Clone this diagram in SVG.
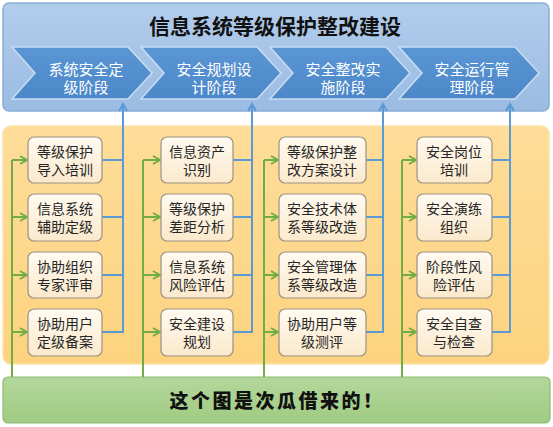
<svg xmlns="http://www.w3.org/2000/svg" width="553" height="427" viewBox="0 0 553 427">
<style>
.t{font-family:"Liberation Sans","Noto Sans CJK SC",sans-serif}
.title{font-size:21px;font-weight:700;fill:#111;text-anchor:middle}
.ch{fill:url(#gChev);stroke:#c9ddf3;stroke-width:1.5}
.cht{font-size:15px;fill:#fff;text-anchor:middle}
.box{fill:url(#gBox);stroke:#9b9283;stroke-width:1.2}
.bt{font-size:14px;fill:#262626;text-anchor:middle}
.gl{fill:none;stroke:#70ad47;stroke-width:2}
.bl{fill:none;stroke:#5b9bd5;stroke-width:2}
</style>
<defs>
<linearGradient id="gTop" x1="0" y1="0" x2="0" y2="1"><stop offset="0" stop-color="#b2cdec"/><stop offset="1" stop-color="#9bbbe2"/></linearGradient>
<linearGradient id="gChev" x1="0" y1="0" x2="0" y2="1"><stop offset="0" stop-color="#5a96d4"/><stop offset="1" stop-color="#4c87c8"/></linearGradient>
<linearGradient id="gMid" x1="0" y1="0" x2="0" y2="1"><stop offset="0" stop-color="#fedd99"/><stop offset="1" stop-color="#fdd37f"/></linearGradient>
<linearGradient id="gBot" x1="0" y1="0" x2="0" y2="1"><stop offset="0" stop-color="#b3d79b"/><stop offset="1" stop-color="#a0cb83"/></linearGradient>
<linearGradient id="gBox" x1="0" y1="0" x2="0" y2="1"><stop offset="0" stop-color="#fffaf1"/><stop offset="1" stop-color="#fbe9cc"/></linearGradient>
<marker id="ag" markerWidth="10" markerHeight="10" refX="8" refY="5" orient="auto" markerUnits="userSpaceOnUse"><path d="M1,1 L8,5 L1,9" fill="none" stroke="#70ad47" stroke-width="2"/></marker>
<marker id="ab" markerWidth="10" markerHeight="10" refX="8" refY="5" orient="auto" markerUnits="userSpaceOnUse"><path d="M1,1 L8,5 L1,9" fill="none" stroke="#5b9bd5" stroke-width="2"/></marker>
</defs>

<g id="panel-top">
<rect x="3" y="3" width="546" height="108" rx="6" fill="url(#gTop)" stroke="#8badd8" stroke-width="1.5"/>
<text class="t title" x="275" y="34">信息系统等级保护整改建设</text>
</g>
<g id="phase1"><path class="ch" d="M12,47 L128,47 L152,73 L128,99 L12,99 L35,73 Z"/><text class="t cht"><tspan x="86" y="75">系统安全定</tspan><tspan x="86" y="93">级阶段</tspan></text></g>
<g id="phase2"><path class="ch" d="M141,47 L257,47 L281,73 L257,99 L141,99 L164,73 Z"/><text class="t cht"><tspan x="214" y="75">安全规划设</tspan><tspan x="214" y="93">计阶段</tspan></text></g>
<g id="phase3"><path class="ch" d="M270,47 L386,47 L410,73 L386,99 L270,99 L293,73 Z"/><text class="t cht"><tspan x="343" y="75">安全整改实</tspan><tspan x="343" y="93">施阶段</tspan></text></g>
<g id="phase4"><path class="ch" d="M399,47 L515,47 L539,73 L515,99 L399,99 L422,73 Z"/><text class="t cht"><tspan x="472" y="75">安全运行管</tspan><tspan x="472" y="93">理阶段</tspan></text></g>

<g id="panel-mid"><rect x="3" y="126" width="546" height="238" rx="8" fill="url(#gMid)" stroke="#fbe2a8" stroke-width="1.5"/></g>
<g id="panel-bottom">
<rect x="3" y="377" width="547" height="46" rx="5" fill="url(#gBot)" stroke="#8ebc70" stroke-width="1.2"/>
<text class="t" x="277" y="408" font-size="19" font-weight="900" fill="#111" text-anchor="middle" letter-spacing="2.5">这个图是次瓜借来的！</text>
</g>

<g id="connectors">
<path class="gl" d="M12,377 V160"/><path class="gl" d="M143,377 V160"/><path class="gl" d="M264,377 V160"/><path class="gl" d="M402,377 V160"/>
<path class="gl" marker-end="url(#ag)" d="M12,160 H27"/><path class="gl" marker-end="url(#ag)" d="M12,217 H27"/><path class="gl" marker-end="url(#ag)" d="M12,275 H27"/><path class="gl" marker-end="url(#ag)" d="M12,332 H27"/>
<path class="gl" marker-end="url(#ag)" d="M143,160 H160"/><path class="gl" marker-end="url(#ag)" d="M143,217 H160"/><path class="gl" marker-end="url(#ag)" d="M143,275 H160"/><path class="gl" marker-end="url(#ag)" d="M143,332 H160"/>
<path class="gl" marker-end="url(#ag)" d="M264,160 H278"/><path class="gl" marker-end="url(#ag)" d="M264,217 H278"/><path class="gl" marker-end="url(#ag)" d="M264,275 H278"/><path class="gl" marker-end="url(#ag)" d="M264,332 H278"/>
<path class="gl" marker-end="url(#ag)" d="M402,160 H416"/><path class="gl" marker-end="url(#ag)" d="M402,217 H416"/><path class="gl" marker-end="url(#ag)" d="M402,275 H416"/><path class="gl" marker-end="url(#ag)" d="M402,332 H416"/>

<path class="bl" marker-end="url(#ab)" d="M102,332 H123 V104"/><path class="bl" d="M102,160 H123 M102,217 H123 M102,275 H123"/>
<path class="bl" marker-end="url(#ab)" d="M233,332 H252 V104"/><path class="bl" d="M233,160 H252 M233,217 H252 M233,275 H252"/>
<path class="bl" marker-end="url(#ab)" d="M366,332 H383 V104"/><path class="bl" d="M366,160 H383 M366,217 H383 M366,275 H383"/>
<path class="bl" marker-end="url(#ab)" d="M492,332 H510 V104"/><path class="bl" d="M492,160 H510 M492,217 H510 M492,275 H510"/>
</g>

<g id="c1r1"><rect class="box" x="28" y="137" width="74" height="46" rx="6"/><text class="t bt"><tspan x="65" y="157">等级保护</tspan><tspan x="65" y="175">导入培训</tspan></text></g>
<g id="c1r2"><rect class="box" x="28" y="194" width="74" height="47" rx="6"/><text class="t bt"><tspan x="65" y="214">信息系统</tspan><tspan x="65" y="232">辅助定级</tspan></text></g>
<g id="c1r3"><rect class="box" x="28" y="252" width="74" height="46" rx="6"/><text class="t bt"><tspan x="65" y="272">协助组织</tspan><tspan x="65" y="290">专家评审</tspan></text></g>
<g id="c1r4"><rect class="box" x="28" y="309" width="74" height="47" rx="6"/><text class="t bt"><tspan x="65" y="329">协助用户</tspan><tspan x="65" y="347">定级备案</tspan></text></g>

<g id="c2r1"><rect class="box" x="161" y="137" width="72" height="46" rx="6"/><text class="t bt"><tspan x="197" y="157">信息资产</tspan><tspan x="197" y="175">识别</tspan></text></g>
<g id="c2r2"><rect class="box" x="161" y="194" width="72" height="47" rx="6"/><text class="t bt"><tspan x="197" y="214">等级保护</tspan><tspan x="197" y="232">差距分析</tspan></text></g>
<g id="c2r3"><rect class="box" x="161" y="252" width="72" height="46" rx="6"/><text class="t bt"><tspan x="197" y="272">信息系统</tspan><tspan x="197" y="290">风险评估</tspan></text></g>
<g id="c2r4"><rect class="box" x="161" y="309" width="72" height="47" rx="6"/><text class="t bt"><tspan x="197" y="329">安全建设</tspan><tspan x="197" y="347">规划</tspan></text></g>

<g id="c3r1"><rect class="box" x="279" y="137" width="87" height="46" rx="6"/><text class="t bt"><tspan x="322" y="157">等级保护整</tspan><tspan x="322" y="175">改方案设计</tspan></text></g>
<g id="c3r2"><rect class="box" x="279" y="194" width="87" height="47" rx="6"/><text class="t bt"><tspan x="322" y="214">安全技术体</tspan><tspan x="322" y="232">系等级改造</tspan></text></g>
<g id="c3r3"><rect class="box" x="279" y="252" width="87" height="46" rx="6"/><text class="t bt"><tspan x="322" y="272">安全管理体</tspan><tspan x="322" y="290">系等级改造</tspan></text></g>
<g id="c3r4"><rect class="box" x="279" y="309" width="87" height="47" rx="6"/><text class="t bt"><tspan x="322" y="329">协助用户等</tspan><tspan x="322" y="347">级测评</tspan></text></g>

<g id="c4r1"><rect class="box" x="417" y="137" width="75" height="46" rx="6"/><text class="t bt"><tspan x="454" y="157">安全岗位</tspan><tspan x="454" y="175">培训</tspan></text></g>
<g id="c4r2"><rect class="box" x="417" y="194" width="75" height="47" rx="6"/><text class="t bt"><tspan x="454" y="214">安全演练</tspan><tspan x="454" y="232">组织</tspan></text></g>
<g id="c4r3"><rect class="box" x="417" y="252" width="75" height="46" rx="6"/><text class="t bt"><tspan x="454" y="272">阶段性风</tspan><tspan x="454" y="290">险评估</tspan></text></g>
<g id="c4r4"><rect class="box" x="417" y="309" width="75" height="47" rx="6"/><text class="t bt"><tspan x="454" y="329">安全自查</tspan><tspan x="454" y="347">与检查</tspan></text></g>
</svg>
